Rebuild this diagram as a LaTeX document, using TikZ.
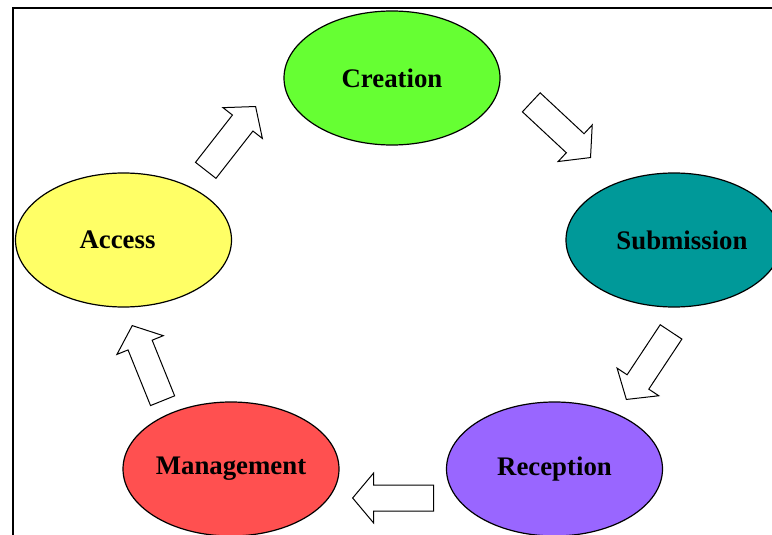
\documentclass[tikz,border=0pt]{standalone}
\usepackage{fontspec}
\setmainfont{Liberation Serif}
\usetikzlibrary{shapes.geometric,shapes.arrows}
\definecolor{creationfill}{HTML}{66FF33}
\definecolor{submissionfill}{HTML}{009999}
\definecolor{receptionfill}{HTML}{9966FF}
\definecolor{managementfill}{HTML}{FF5050}
\definecolor{accessfill}{HTML}{FFFF66}
\begin{document}
\begin{tikzpicture}[x=0.5pt,y=0.5pt,
    stage/.style={draw,ellipse,line width=0.6pt,minimum width=108pt,minimum height=67pt,inner sep=0pt,font=\bfseries\fontsize{13.4}{15}\selectfont},
    every label/.style={font=\bfseries\fontsize{13.4}{15}\selectfont},
    flow/.style={draw,single arrow,fill=white,line width=0.5pt,minimum height=40.5pt,inner sep=0pt,inner ysep=6.25pt,single arrow head extend=6pt,single arrow tip angle=100,anchor=tip}]
    \useasboundingbox (0,0) rectangle (772,-535);
    \clip (0,0) rectangle (772,-535);
    \draw[line width=0.7pt] (13,-600) |- (800,-8);
    % the five stages
    \node[stage,fill=creationfill] (creation) at (392,-78) {Creation};
    \node[stage,fill=submissionfill,label={[xshift=4pt]center:Submission}] (submission) at (674,-240) {};
    \node[stage,fill=receptionfill] (reception) at (554.5,-469) {Reception};
    \node[stage,fill=managementfill] (management) at (231,-469) {Management};
    \node[stage,fill=accessfill,label={[xshift=-3pt]center:Access}] (access) at (123.5,-240) {};
    % block arrows between them
    \node[flow,rotate=52] (a1) at (256,-106) {};
    \node[flow,rotate=-43] (a2) at (591,-158) {};
    \node[flow,rotate=-123.5] (a3) at (626,-400) {};
    \node[flow,rotate=180] (a4) at (352,-498) {};
    \node[flow,rotate=112] (a5) at (132,-325) {};
\end{tikzpicture}
\end{document}
